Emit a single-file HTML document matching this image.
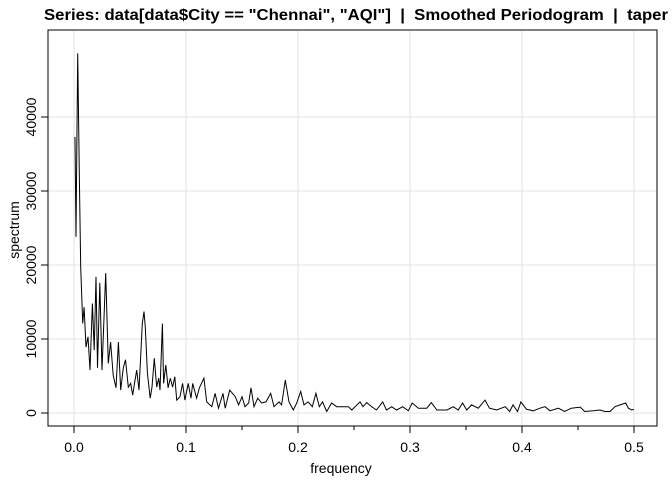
<!DOCTYPE html>
<html><head><meta charset="utf-8"><style>
body{margin:0;background:#fff}
svg{display:block;font-family:"Liberation Sans",Arial,sans-serif}
</style></head><body>
<svg id="chart" width="672" height="480" viewBox="0 0 672 480">
<text x="44" y="20" font-size="16" font-weight="bold" style="white-space:pre" xml:space="preserve" textLength="624" lengthAdjust="spacingAndGlyphs">Series: data[data$City == "Chennai", "AQI"]  |  Smoothed Periodogram  |  taper</text>
<g id="grid"></g>
<path id="line" fill="none" stroke="#000" stroke-width="1"/>
<rect x="48" y="30" width="609" height="396" fill="none" stroke="#000" stroke-width="1"/>
<g id="axes"></g>
<text x="341" y="473" font-size="14" text-anchor="middle">frequency</text>
<text x="19" y="230" font-size="14" text-anchor="middle" transform="rotate(-90 19 230)">spectrum</text>
</svg>
<script>
const freq = [0.0009,0.0018,0.0033,0.0047,0.006,0.0078,0.009,0.0107,0.0125,0.0143,0.0164,0.018,0.0196,0.021,0.023,0.025,0.0283,0.0306,0.0327,0.035,0.0375,0.0396,0.0417,0.044,0.046,0.0485,0.0506,0.0524,0.054,0.056,0.058,0.061,0.0625,0.0637,0.0655,0.068,0.0696,0.0717,0.0738,0.0756,0.0768,0.0789,0.080,0.082,0.084,0.086,0.088,0.090,0.0917,0.0946,0.097,0.099,0.102,0.1045,0.106,0.1095,0.112,0.116,0.1185,0.123,0.126,0.129,0.133,0.135,0.139,0.144,0.147,0.150,0.1527,0.156,0.158,0.1607,0.164,0.1675,0.1714,0.1756,0.1786,0.183,0.1854,0.1887,0.192,0.1958,0.1988,0.2024,0.2054,0.209,0.2128,0.216,0.219,0.222,0.2256,0.230,0.2345,0.2405,0.245,0.248,0.251,0.2554,0.258,0.2613,0.2658,0.270,0.2756,0.279,0.2837,0.288,0.2935,0.2985,0.302,0.3075,0.315,0.319,0.324,0.333,0.3387,0.343,0.347,0.3506,0.355,0.361,0.367,0.371,0.3774,0.385,0.389,0.392,0.396,0.399,0.404,0.410,0.416,0.4205,0.425,0.4325,0.438,0.444,0.452,0.456,0.4637,0.4696,0.474,0.4786,0.483,0.4875,0.4926,0.495,0.498,0.5];
const spec = [37300,23800,48600,32400,19700,12100,14300,8900,10300,5800,14800,8500,18400,6100,17600,5800,18900,6700,9600,5100,3400,9600,3100,6100,7200,3500,4000,2400,4000,5800,3100,12100,13700,11600,5400,2000,3500,7400,3500,4700,3100,12100,4000,6500,3400,4700,3500,4900,1750,2200,4000,1750,4000,2000,4000,2000,3400,4700,1500,850,2650,650,2650,650,3100,2200,1100,2200,850,1350,3400,850,2000,1350,1500,2650,850,1500,1100,4450,1500,400,1350,2900,1100,1500,850,2650,850,1500,200,1350,850,850,850,400,850,1500,850,1400,850,400,1500,400,850,400,850,300,1350,650,650,1400,400,400,850,400,1350,400,1100,650,1750,650,400,850,200,1100,200,1500,500,300,650,850,300,650,200,650,800,200,300,400,200,200,850,1100,1350,650,400,500];
const xTicks = [0,0.1,0.2,0.3,0.4,0.5];
const yTicks = [0,10000,20000,30000,40000];
const yTickLabels = ["0","10000","20000","30000","40000"];

const X = f => 74 + f*1120;
const Y = v => 413 - v*0.0074;
const NS = "http://www.w3.org/2000/svg";
const grid = document.getElementById('grid'), axes = document.getElementById('axes');
function mk(tag, attrs, parent){const e=document.createElementNS(NS,tag);for(const k in attrs)e.setAttribute(k,attrs[k]);parent.appendChild(e);return e;}
xTicks.forEach(t=>{
  const g = mk('line',{x1:X(t),x2:X(t),y1:30,y2:426,stroke:'#e3e3e3','stroke-width':1},grid);
  
  
  const tk = mk('line',{x1:X(t),x2:X(t),y1:426,y2:433,stroke:'#000'},axes);
  
  
  const lb = mk('text',{x:X(t),y:452,'font-size':14,'text-anchor':'middle'},axes);
  lb.textContent = t.toFixed(1);
  
  
});
for(let i=0;i<5;i++){ const t=(xTicks[i]+xTicks[i+1])/2;
  const tk = mk('line',{x1:X(t),x2:X(t),y1:426,y2:430,stroke:'#000'},axes);
  
  
}
mk('line',{x1:X(0),x2:X(0.5),y1:426,y2:426,stroke:'#000'},axes);
yTicks.forEach((t,i)=>{
  const g = mk('line',{x1:48,x2:657,y1:Y(t),y2:Y(t),stroke:'#e3e3e3','stroke-width':1},grid);
  
  
  const tk = mk('line',{x1:41,x2:48,y1:Y(t),y2:Y(t),stroke:'#000'},axes);
  
  
  const lb = mk('text',{x:36,y:Y(t),'font-size':14,'text-anchor':'middle',transform:`rotate(-90 36 ${Y(t)})`},axes);
  lb.textContent = yTickLabels[i];
  
  
});
document.getElementById('line').setAttribute('d', freq.map((f,i)=>(i?'L':'M')+X(f).toFixed(1)+','+Y(spec[i]).toFixed(1)).join(''));
</script>
</body></html>
